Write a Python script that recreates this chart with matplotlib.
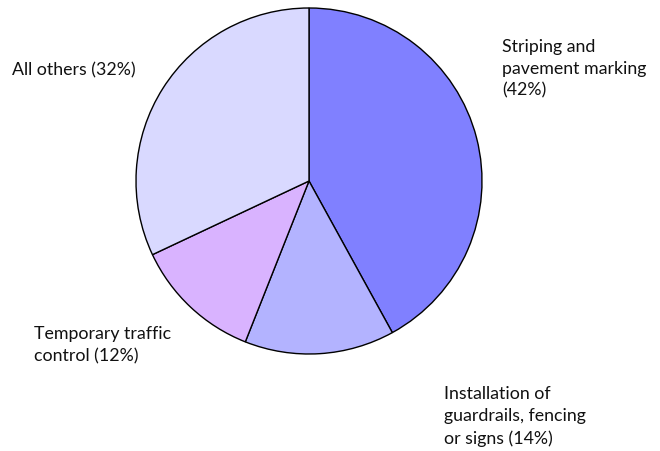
import matplotlib
matplotlib.use("Agg")
import matplotlib.pyplot as plt

labels = ["Striping and\npavement marking\n(42%)",
          "Installation of\nguardrails, fencing\nor signs (14%)",
          "Temporary traffic\ncontrol (12%)",
          "All others (32%)"]
shares = [42, 14, 12, 32]
colors = ["#8080FF", "#B3B3FF", "#D9B3FF", "#D9D9FF"]

# label anchor points, pixel coords from the top-left corner
label_xy = [(502, 39), (444, 386), (34, 326), (12, 62)]

W, H = 660, 451
fig = plt.figure(figsize=(W / 100, H / 100), dpi=100)
ax = fig.add_axes([0, 0, 1, 1])
ax.set_xlim(0, W)
ax.set_ylim(0, H)
ax.set_aspect("equal")
ax.axis("off")

ax.pie(shares, colors=colors, startangle=90, counterclock=False,
       center=(309, H - 181), radius=173,
       wedgeprops=dict(edgecolor="black", linewidth=1.0))
ax.set_xlim(0, W)
ax.set_ylim(0, H)

for lab, (x, y) in zip(labels, label_xy):
    ax.text(x, H - y, lab, ha="left", va="top", fontsize=12.8,
            family="Lato", color="#111111", linespacing=1.45)

fig.savefig("out.png", dpi=100)
